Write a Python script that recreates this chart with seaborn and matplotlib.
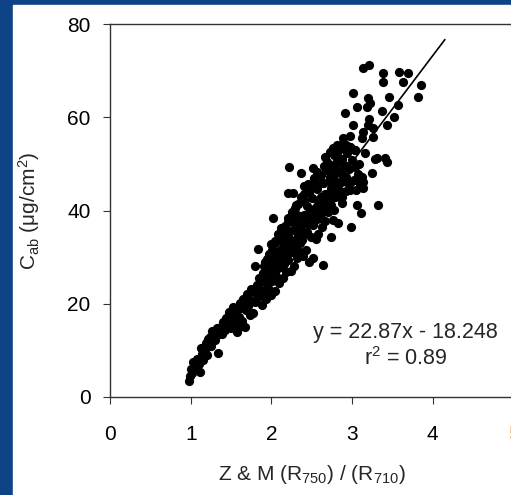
#SCATTER OF CHLOROPHYLL vs Z&M INDEX
import matplotlib
matplotlib.use("Agg")
import matplotlib.pyplot as plt
import seaborn as sns
import numpy as np

# values, one line per x-slice
zm_ratio = [
    0.98, 0.99, 1.00, 1.01, 1.03, 1.06, 1.08, 1.10, 1.12, 1.13, 1.14, 1.15,
    1.17, 1.19, 1.20, 1.22, 1.24, 1.25, 1.27, 1.28, 1.30, 1.32, 1.34, 1.35,
    1.37, 1.39, 1.40, 1.42, 1.44, 1.45, 1.47, 1.49, 1.50, 1.52, 1.53, 1.55,
    1.56, 1.57, 1.59, 1.60, 1.61, 1.62, 1.64, 1.65, 1.67, 1.68, 1.70, 1.71, 1.73, 1.74, 1.75,
    1.77, 1.78, 1.80, 1.80, 1.82, 1.83, 1.84, 1.85, 1.87, 1.88, 1.89, 1.90, 1.91, 1.92, 1.93, 1.94, 1.95, 1.95,
    1.96, 1.97, 1.98, 1.99, 2.00, 2.00, 2.01, 2.02, 2.02, 2.03, 2.04, 2.05, 2.06, 2.07, 2.08, 2.09, 2.10, 2.11, 2.12, 2.13, 2.14, 2.15,
    2.16, 2.17, 2.18, 2.19, 2.20, 2.21, 2.21, 2.22, 2.23, 2.24, 2.25, 2.26, 2.27, 2.27, 2.28, 2.29, 2.30, 2.31, 2.32, 2.33, 2.34, 2.35,
    2.36, 2.37, 2.38, 2.38, 2.39, 2.40, 2.41, 2.42, 2.43, 2.44, 2.45, 2.46, 2.47, 2.48, 2.49, 2.50, 2.51, 2.52, 2.52, 2.53, 2.54, 2.55,
    2.56, 2.57, 2.58, 2.59, 2.60, 2.61, 2.62, 2.63, 2.64, 2.64, 2.65, 2.66, 2.67, 2.68, 2.69, 2.70, 2.71, 2.72, 2.73, 2.74, 2.74, 2.75,
    2.76, 2.77, 2.78, 2.79, 2.80, 2.81, 2.82, 2.83, 2.84, 2.85, 2.86, 2.87, 2.88, 2.89, 2.90, 2.91, 2.92, 2.93, 2.94, 2.95,
    2.96, 2.97, 2.98, 2.99, 3.00, 3.01, 3.02, 3.03, 3.04, 3.05, 3.06, 3.07, 3.08, 3.10, 3.11, 3.12, 3.13, 3.14, 3.16,
    3.01, 3.06, 3.12, 3.135, 3.18, 3.20, 3.20, 3.21, 3.21, 3.22,
    3.25, 3.26, 3.26, 3.31, 3.37, 3.38, 3.38, 3.41, 3.43, 3.43,
    3.46, 3.52, 3.57, 3.58, 3.63, 3.69, 3.82, 3.85, 3.32, 3.28,
    3.135, 3.04, 2.97, 2.76,
    1.86, 1.90, 1.94, 1.98, 2.02, 2.06, 2.10, 2.14, 2.18, 2.22,
    2.26, 2.30, 2.34, 2.38, 2.42, 2.46, 2.50, 2.54, 2.58, 2.62,
    2.66, 2.70, 2.74, 2.78, 2.82, 2.86, 2.90,
    1.88, 1.92, 1.96, 2.00, 2.04, 2.08, 2.12, 2.16, 2.20, 2.24,
    2.28, 2.32, 2.36, 2.40, 2.44, 2.48, 2.52, 2.56, 2.60, 2.64,
    2.68, 2.72, 2.76, 2.80, 2.84, 2.88,
    2.01, 2.05, 2.09, 2.13, 2.17, 2.21, 2.25, 2.29, 2.33, 2.37,
    2.41, 2.45, 2.49, 2.53, 2.57, 2.61, 2.65, 2.69, 2.73, 2.77,
    2.81, 2.85, 2.89, 2.93, 2.97,
    2.01, 2.05, 2.09, 2.13, 2.17, 2.21, 2.25, 2.29, 2.33, 2.37,
    2.41, 2.45, 2.49, 2.53, 2.57, 2.61, 2.65, 2.69, 2.73, 2.77,
    2.81, 2.85, 2.89, 2.93, 2.97,
]
cab = [
    3.5, 4.6, 6.0, 5.2, 7.4, 6.3, 8.1, 7.0, 5.4, 10.5, 9.2, 8.0,
    10.0, 11.6, 9.0, 12.4, 12.9, 11.0, 14.2, 13.1, 12.2, 14.8, 9.4, 13.5,
    15.1, 13.6, 16.1, 14.4, 17.0, 15.6, 18.2, 16.5, 14.9, 19.3, 17.4, 16.0,
    18.5, 13.9, 14.8, 17.2, 20.2, 19.0, 16.4, 21.0, 15.0, 18.7, 22.0, 19.6, 20.8, 17.6, 23.1,
    18.0, 22.5, 28.1, 20.4, 24.0, 31.8, 21.5, 25.5, 23.0, 19.8, 26.6, 22.2, 28.0, 24.6, 21.0, 27.2, 25.0, 29.5,
    23.4, 30.6, 26.2, 21.9, 28.4, 32.8, 24.8, 38.4, 27.0, 30.0, 22.8, 33.5, 26.0, 29.2, 35.0, 24.5, 31.4, 27.8, 36.2, 30.5, 25.6, 33.0,
    28.6, 34.4, 26.8, 31.6, 37.5, 43.8, 29.4, 49.4, 33.2, 27.0, 39.6, 31.0, 43.8, 35.8, 28.2, 37.0, 32.4, 41.2, 29.8, 34.8, 38.8, 31.2,
    36.4, 48.1, 33.6, 42.5, 30.2, 39.0, 45.2, 35.2, 31.6, 41.0, 37.8, 44.0, 29.0, 39.8, 34.4, 42.6, 36.8, 49.1, 29.8, 40.4, 46.0, 33.8,
    38.2, 44.6, 35.0, 41.8, 47.4, 39.2, 43.0, 36.4, 28.3, 45.8, 40.6, 51.5, 37.8, 48.6, 42.4, 39.6, 46.4, 44.0, 52.6, 34.3, 41.2, 49.0,
    44.6, 40.2, 47.6, 42.8, 50.2, 54.1, 45.4, 37.3, 48.4, 43.0, 46.2, 51.0, 41.6, 55.6, 47.0, 60.9, 44.2, 49.6, 52.4, 45.8,
    48.8, 53.6, 44.4, 36.5, 50.8, 58.4, 46.6, 49.4, 53.0, 44.4, 41.2, 47.8, 50.0, 45.6, 39.5, 55.6, 46.1, 56.9, 52.4,
    65.2, 62.2, 47.2, 70.6, 62.2, 64.2, 58.4, 71.2, 59.7, 63.1,
    48.1, 57.7, 55.8, 51.3, 61.4, 69.5, 67.6, 51.3, 58.4, 50.4,
    64.4, 60.1, 62.7, 69.7, 67.6, 69.5, 64.4, 67.0, 41.2, 51.1,
    44.8, 53.0, 53.6, 53.4,
    24.8, 26.0, 26.8, 28.2, 28.8, 30.8, 29.4, 32.2, 32.0, 34.2,
    33.4, 36.0, 35.6, 37.4, 38.6, 38.0, 40.0, 38.8, 42.2, 41.4,
    43.6, 42.8, 44.8, 46.6, 43.8, 48.0, 49.8,
    22.6, 29.0, 28.6, 25.4, 31.2, 27.6, 33.8, 30.4, 35.4, 31.2,
    38.2, 39.0, 33.0, 42.0, 35.4, 44.8, 37.6, 41.0, 38.4, 46.0,
    41.0, 47.2, 38.0, 44.2, 51.2, 43.0,
    31.6, 33.0, 34.6, 35.4, 36.6, 38.4, 39.0, 40.6, 41.4, 43.0,
    43.6, 45.6, 45.0, 47.0, 48.2, 47.6, 49.6, 50.4, 49.8, 52.0,
    51.6, 53.2, 54.4, 54.0, 56.0,
    25.0, 26.4, 27.8, 28.6, 30.0, 31.4, 32.6, 33.0, 34.2, 35.8,
    35.0, 37.0, 38.4, 37.8, 40.2, 39.6, 41.4, 42.6, 42.0, 43.6,
    45.0, 44.2, 46.4, 47.2, 46.0,
]

# trendline (Excel style) and its label
slope = 22.87
intercept = -18.248
r_squared = 0.89
line_x = [0.98, 4.15]

x_ticks = [0, 1, 2, 3, 4, 5]
y_ticks = [0, 20, 40, 60, 80]

sns.set_style("white")
plt.rcParams["font.family"] = ["Liberation Sans", "DejaVu Sans"]
plt.rcParams["mathtext.fontset"] = "custom"
plt.rcParams["mathtext.rm"] = "Liberation Sans"
plt.rcParams["mathtext.it"] = "Liberation Sans:italic"
plt.rcParams["mathtext.default"] = "regular"

fig = plt.figure(figsize=(5.11, 4.95), dpi=100, facecolor="#0E4486")
# white slide area (blue frame shows on left and top)
fig.patches.append(plt.Rectangle((13 / 511, 0), 1, 1 - 5 / 495,
                                 transform=fig.transFigure, color="white", zorder=-10))

ax = fig.add_axes([110 / 511, 98 / 495, 403.5 / 511, 373 / 495])
ax.set_facecolor("none")

sns.scatterplot(x=zm_ratio, y=cab, color="black", s=44, linewidth=0, ax=ax)

line_y = [slope * v + intercept for v in line_x]
sns.lineplot(x=line_x, y=line_y, color="black", linewidth=1.2, ax=ax)

ax.set_xlim(0, 5)
ax.set_ylim(0, 80)
ax.set_xticks(x_ticks)
ax.set_yticks(y_ticks)
ax.tick_params(axis="both", direction="out", length=5, width=0.8, colors="#333333",
               labelcolor="black", labelsize=15, left=True, bottom=True)
ax.tick_params(axis="x", pad=15)
ax.tick_params(axis="y", pad=9)
ax.get_xticklabels()[-1].set_color("#E8A33C")

for side in ["left", "bottom", "top"]:
    ax.spines[side].set_color("#333333")
    ax.spines[side].set_linewidth(1.0)
ax.spines["right"].set_visible(False)

ax.set_xlabel("Z & M (R$_{750}$) / (R$_{710}$)", fontsize=15, labelpad=14)
ax.set_ylabel("C$_{ab}$ (μg/cm$^{2}$)", fontsize=15, labelpad=18)

ax.text(3.66, 13.9, f"y = {slope}x - {abs(intercept)}", fontsize=15.5, ha="center", va="center")
ax.text(3.66, 8.2, f"r$^2$ = {r_squared}", fontsize=15.5, ha="center", va="center")

plt.savefig("out.png", dpi=100, facecolor=fig.get_facecolor())
